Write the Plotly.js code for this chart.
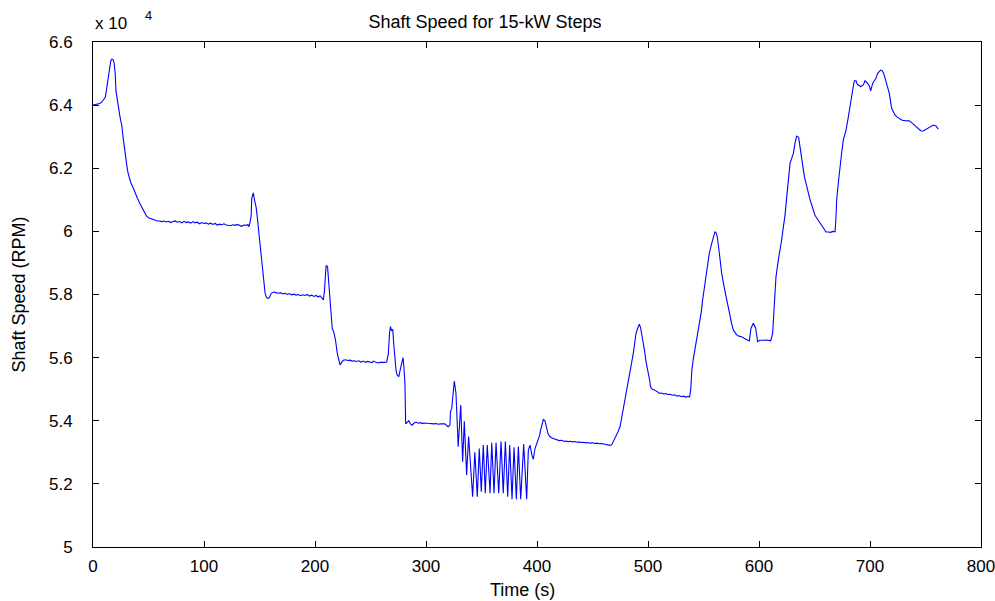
<!DOCTYPE html>
<html>
<head>
<meta charset="utf-8">
<script src="https://cdn.plot.ly/plotly-3.0.1.min.js"></script>
<style>
  html, body { margin: 0; padding: 0; background: #fff; }
  #chart { width: 995px; height: 601px; }
</style>
</head>
<body>
<div id="chart"></div>
<script>
// Shaft speed trace for successive 15-kW load steps
const timeS = [
  0, 2, 4, 6, 8, 10, 11, 12, 13, 14, 15, 16, 17, 18, 19, 20, 20.7, 22, 23, 24,
  25, 26, 27, 28, 29, 30, 31, 32, 33, 34, 36, 38, 40, 42, 44, 46, 48, 50, 52, 54,
  56, 58, 60, 62, 64, 66, 68, 70, 72, 74, 76, 78, 80, 82, 84, 86, 88, 90, 92, 94,
  96, 98, 100, 102, 104, 106, 108, 110, 112, 114, 116, 118, 120, 122, 124, 126, 128, 130, 132, 134,
  136, 138, 139.5, 140.5, 141.5, 142.5, 143, 144.4, 145.5, 147, 148, 149, 150, 151, 152, 153, 154, 155, 156, 157.5,
  159, 160, 161.5, 163, 165, 167, 169, 171, 173, 175, 177, 179, 181, 183, 185, 187, 189, 191, 193, 195,
  197, 199, 201, 203, 204.5, 206, 207.5, 208.5, 209.5, 210, 211.3, 212.5, 213.5, 214.5, 215.5, 217, 218.5, 220, 221.5, 222.5,
  224, 225.5, 227.5, 229.5, 231.5, 233.5, 235.5, 237.5, 239.5, 241.5, 243.5, 245.5, 247.5, 249.5, 251.5, 252.5, 254.5, 256.5, 258.5, 260.5,
  262.5, 264.5, 266, 267.2, 268, 269, 270, 271, 272, 273, 274, 275.5, 277, 278.5, 279.3, 280.3, 281, 281.7, 283, 284.5,
  286, 287.5, 289, 291, 293, 295, 297, 299, 301, 303, 305, 307, 309, 311, 313, 315, 317, 318.5, 320, 321.6,
  322, 323.2, 324, 325.5, 327, 329, 331.3, 333, 334.5, 336.6, 338.4, 340.2, 342, 344, 346.2, 348, 349.8, 351.6, 353.4, 355.2,
  357.7, 359.2, 361.3, 363.1, 365.5, 367.6, 369.6, 371.5, 373.6, 375.4, 377.5, 379.3, 381.4, 383.2, 385.3, 388, 390.7, 392.2, 393.7, 395.5,
  396.7, 398.2, 400, 401.2, 402.5, 403.3, 404.5, 405.7, 407.2, 408.7, 410, 411.7, 413, 414.7, 416, 417.7, 420, 422, 424, 426,
  428, 430, 432, 434, 436, 438, 440, 442, 444, 446, 448, 450, 452, 454, 456, 458, 460, 462, 464, 466,
  467.5, 469, 471, 473, 474.8, 476.3, 477.8, 479.3, 480.8, 482.3, 483.8, 485.3, 486.8, 488, 489.2, 490.7, 492.2, 493.3, 494.3, 495.8,
  497, 498.2, 499.3, 500.3, 501.4, 502.4, 504, 506.3, 508, 510.2, 512, 514, 516, 518, 520, 522, 524, 526, 528, 530,
  532, 534, 536, 537.5, 538.5, 539.5, 540.8, 542.3, 544.4, 546.8, 548, 549.2, 551.4, 553.4, 555.2, 557.4, 559, 560.4, 561.4, 562.4,
  564.3, 566.4, 568.5, 570.9, 572.5, 573.9, 575.5, 576.9, 578.5, 579.9, 582, 584.4, 586.5, 588.9, 591.3, 592.8, 594.9, 597, 598.8, 600.5,
  602.4, 604.5, 606.9, 608.5, 610.5, 612.3, 613.8, 615.3, 617.4, 618.9, 620.5, 622, 623.4, 625, 626.5, 628, 629.5, 631, 632.4, 633.9,
  635.7, 636.5, 637.5, 638.8, 640, 641, 642.3, 644, 646, 648, 650.5, 652.5, 654.5, 656.8, 658.5, 660.4, 662.5, 664.5, 666.5, 668.5,
  669.3, 670, 671.5, 673, 674.5, 676, 678.4, 680.5, 682.6, 684.4, 685.9, 687.4, 688.6, 690, 691.6, 694, 695.5, 697.9, 699.5, 700.6,
  702.4, 704, 705.4, 706.9, 709.6, 711, 712, 713.2, 714.4, 716, 717.4, 719.5, 721, 722.5, 724.5, 727, 729, 731.5, 733.5, 735.4,
  737, 739, 741, 742.6, 744, 745.7, 748, 750, 752.5, 755, 757, 759.5, 761.5
];

// Speed in RPM
const speedRpm = [
  64000, 64010, 64030, 64050, 64100, 64180, 64250, 64450, 64700, 64950, 65250, 65400, 65460, 65450, 65350, 65000, 64450, 64100, 63900, 63700,
  63500, 63350, 63000, 62700, 62350, 62100, 61950, 61800, 61680, 61550, 61400, 61200, 61050, 60900, 60750, 60620, 60500, 60430, 60400, 60380,
  60360, 60330, 60330, 60310, 60330, 60300, 60320, 60280, 60310, 60330, 60290, 60310, 60270, 60320, 60280, 60300, 60260, 60310, 60270, 60290,
  60240, 60280, 60250, 60270, 60230, 60260, 60220, 60250, 60200, 60230, 60210, 60240, 60200, 60190, 60180, 60210, 60190, 60220, 60180, 60160,
  60200, 60190, 60220, 60150, 60300, 60500, 61050, 61220, 61000, 60750, 60450, 60100, 59750, 59460, 59050, 58600, 58300, 58050, 57920, 57880,
  57900, 58000, 58060, 58080, 58060, 58040, 58060, 58020, 58040, 58000, 58030, 57990, 58010, 57980, 58000, 57960, 57990, 57970, 58000, 57950,
  57980, 57940, 57970, 57920, 57960, 57880, 57830, 58100, 58600, 58920, 58880, 58300, 57700, 57200, 56930, 56800, 56550, 56150, 55850, 55770,
  55850, 55920, 55930, 55910, 55920, 55890, 55900, 55880, 55900, 55860, 55890, 55850, 55880, 55860, 55840, 55890, 55850, 55830, 55850, 55840,
  55850, 55860, 56100, 56800, 56980, 56850, 56900, 56400, 55870, 55600, 55450, 55400, 55650, 55900, 56000, 55600, 55200, 53900, 53960, 54000,
  53900, 53860, 53920, 53960, 53920, 53940, 53910, 53930, 53920, 53910, 53920, 53900, 53910, 53890, 53900, 53890, 53900, 53850, 53810, 53870,
  54280, 54400, 54760, 55260, 54870, 53180, 54500, 52700, 53980, 52280, 53500, 52440, 51590, 53000, 51590, 53120, 51750, 53230, 51700, 53230,
  51700, 53300, 51700, 53300, 51700, 53340, 51700, 53340, 51590, 53230, 51510, 53160, 51510, 53180, 51510, 53260, 51510, 53070, 53230, 52900,
  52780, 53120, 53300, 53390, 53550, 53710, 53920, 54040, 54000, 53710, 53580, 53500, 53460, 53440, 53420, 53410, 53370, 53380, 53350, 53360,
  53340, 53350, 53330, 53340, 53320, 53330, 53310, 53320, 53300, 53310, 53290, 53300, 53280, 53290, 53270, 53280, 53260, 53250, 53230, 53220,
  53250, 53350, 53500, 53650, 53810, 54100, 54440, 54700, 54970, 55220, 55500, 55800, 56140, 56450, 56770, 56930, 57060, 56950, 56770, 56500,
  56200, 55870, 55700, 55550, 55300, 55060, 55000, 54970, 54920, 54870, 54880, 54850, 54860, 54830, 54840, 54810, 54820, 54780, 54800, 54760,
  54780, 54750, 54770, 54760, 55000, 55600, 55950, 56240, 56660, 57090, 57450, 57820, 58350, 58780, 59300, 59620, 59850, 59990, 59950, 59830,
  59300, 58670, 58250, 57820, 57550, 57300, 57050, 56870, 56770, 56720, 56680, 56660, 56610, 56560, 56530, 56930, 57090, 56930, 56500, 56550,
  56560, 56550, 56560, 56540, 56530, 56770, 57610, 58560, 59090, 59360, 59750, 60150, 60500, 61100, 61650, 62160, 62320, 62470, 62790, 63020,
  62980, 62750, 62470, 62200, 61940, 61720, 61520, 61250, 61000, 60780, 60500, 60400, 60300, 60200, 60100, 59980, 59980, 59970, 60000, 59990,
  60400, 61000, 61550, 62100, 62500, 62900, 63210, 63630, 64160, 64480, 64770, 64770, 64660, 64620, 64590, 64640, 64770, 64690, 64600, 64450,
  64690, 64780, 64850, 65010, 65110, 65090, 65030, 64900, 64740, 64550, 64370, 63900, 63780, 63690, 63620, 63550, 63520, 63510, 63510, 63500,
  63460, 63400, 63350, 63300, 63240, 63190, 63180, 63220, 63290, 63340, 63370, 63340, 63240
];

// Axis tick values and labels (speed axis shown in units of 10^4 RPM)
const xTicks = [0, 100, 200, 300, 400, 500, 600, 700, 800];
const yTicks = [5, 5.2, 5.4, 5.6, 5.8, 6, 6.2, 6.4, 6.6];
const yTickText = ['5', '5.2', '5.4', '5.6', '5.8', '6', '6.2', '6.4', '6.6'];
const speedScale = 1e4;

const font = 'Liberation Sans, Arial, sans-serif';

const trace = {
  x: timeS,
  y: speedRpm.map(v => v / speedScale),
  type: 'scatter',
  mode: 'lines',
  line: { color: 'rgb(0,0,255)', width: 1.1 },
  hoverinfo: 'x+y'
};

const axisCommon = {
  showline: true,
  linecolor: 'black',
  linewidth: 1,
  mirror: 'allticks',
  ticks: 'inside',
  ticklen: 6,
  tickwidth: 1,
  tickcolor: 'black',
  showgrid: false,
  zeroline: false,
  ticklabeloverflow: 'allow',
  tickfont: { family: font, size: 17, color: 'black' }
};

const layout = {
  width: 995,
  height: 601,
  margin: { l: 93, r: 14, t: 42, b: 54 },
  paper_bgcolor: 'white',
  plot_bgcolor: 'white',
  showlegend: false,
  title: {
    text: 'Shaft Speed for 15-kW Steps',
    font: { family: font, size: 18, color: 'black' },
    x: 485 / 995,
    xref: 'container',
    xanchor: 'center',
    y: 1 - 22 / 601,
    yanchor: 'middle'
  },
  xaxis: Object.assign({}, axisCommon, {
    range: [0, 800],
    tickvals: xTicks,
    ticktext: xTicks.map(String),
    ticklabelstandoff: 4
  }),
  yaxis: Object.assign({}, axisCommon, {
    range: [5, 6.6],
    tickvals: yTicks,
    ticktext: yTickText,
    ticklabelstandoff: 16,
    title: { text: 'Shaft Speed (RPM)', font: { family: font, size: 18, color: 'black' }, standoff: 18 }
  }),
  annotations: [
    {
      // x-axis label
      text: 'Time (s)', xref: 'paper', yref: 'paper', x: (522 - 93) / 888, y: 0,
      xanchor: 'center', yanchor: 'middle', yshift: -43, showarrow: false,
      font: { family: font, size: 18, color: 'black' }
    },
    {
      text: 'x 10', xref: 'paper', yref: 'paper', x: 0, y: 1,
      xanchor: 'left', yanchor: 'bottom', yshift: 7, showarrow: false,
      font: { family: font, size: 17, color: 'black' }
    },
    {
      text: '4', xref: 'paper', yref: 'paper', x: 0, y: 1,
      xanchor: 'center', yanchor: 'bottom', xshift: 55, yshift: 17, showarrow: false,
      font: { family: font, size: 13, color: 'black' }
    }
  ]
};

Plotly.newPlot('chart', [trace], layout, { displayModeBar: false, staticPlot: true });
</script>
</body>
</html>
